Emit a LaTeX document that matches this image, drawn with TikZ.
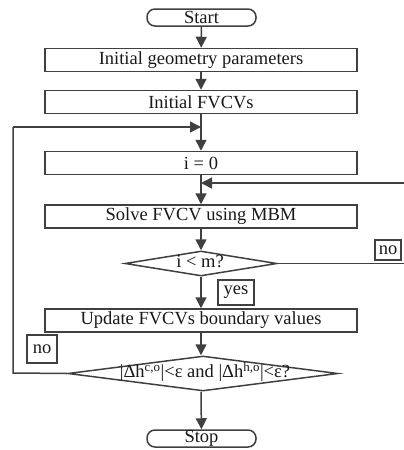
\documentclass[tikz,border=0pt]{standalone}
\usepackage{fontspec}
\setmainfont{Liberation Serif}
\usetikzlibrary{shapes.geometric,arrows.meta}
\begin{document}
\begin{tikzpicture}[x=1pt,y=-1pt,
  line width=1.5pt, draw=black!75,
  every node/.style={font=\fontsize{18.5}{19}\selectfont, text=black!90, inner sep=0pt},
  box/.style={draw=black!75, rectangle, minimum width=312pt, minimum height=23pt},
  term/.style={draw=black!75, rectangle, rounded corners=8pt, minimum width=109pt, minimum height=17pt},
  dec/.style={draw=black!75, diamond, aspect=6, inner sep=0pt},
  lab/.style={draw=black!75, rectangle},
  arr/.style={draw=black!75, -{Triangle[length=11pt,width=11pt]}},
  ln/.style={draw=black!75}
]
\useasboundingbox (0,0) rectangle (404,450);
\node[term] (start) at (201.5,17.5) {Start};
\node[box] (b1) at (201,60) {Initial geometry parameters};
\node[box] (b2) at (201,102) {Initial FVCVs};
\node[box] (b3) at (201,163) {i = 0};
\node[box] (b4) at (201,216.5) {Solve FVCV using MBM};
\node[dec, minimum width=152pt, minimum height=25pt] (d1) at (201,263.5) {};
\node at (200,262) {i < m?};
\node[box] (b5) at (201,320.5) {Update FVCVs boundary values};
\node[dec, minimum width=270pt, minimum height=35pt] (d2) at (203,373.5) {};
\node[font=\fontsize{18.5}{19}\selectfont] at (205,372) {|Δh\textsuperscript{c,o}|<ε and |Δh\textsuperscript{h,o}|<ε?};
\node[term] (stop) at (201.5,438.5) {Stop};
\node[lab, minimum width=26pt, minimum height=20pt] (no1) at (388,250) {no};
\node[lab, minimum width=36pt, minimum height=25pt] (yes) at (236,292.5) {yes};
\node[lab, minimum width=30pt, minimum height=28pt] (no2) at (42,349) {no};
\coordinate (j1) at (201,127);
\coordinate (j2) at (201,183);
\coordinate (lb) at (13,373);
\coordinate (lt) at (13,127);
\coordinate (rb) at (410,263.5);
\coordinate (rt) at (410,183);
\draw[arr] (start) -- (b1);
\draw[arr] (b1) -- (b2);
\draw[arr] (b2) -- (b3);
\draw[arr] (b3) -- (b4);
\draw[arr] (b4) -- (d1);
\draw[arr] (d1) -- (b5);
\draw[arr] (b5) -- (d2.north -| b5);
\draw[arr] (d2.south -| b5) -- (stop);
\draw[ln] (d1.east) -- (rb) -- (rt);
\draw[arr] (rt) -- (j2);
\draw[ln] (d2.west) -- (lb) -- (lt);
\draw[arr] (lt) -- (j1);
\end{tikzpicture}
\end{document}
